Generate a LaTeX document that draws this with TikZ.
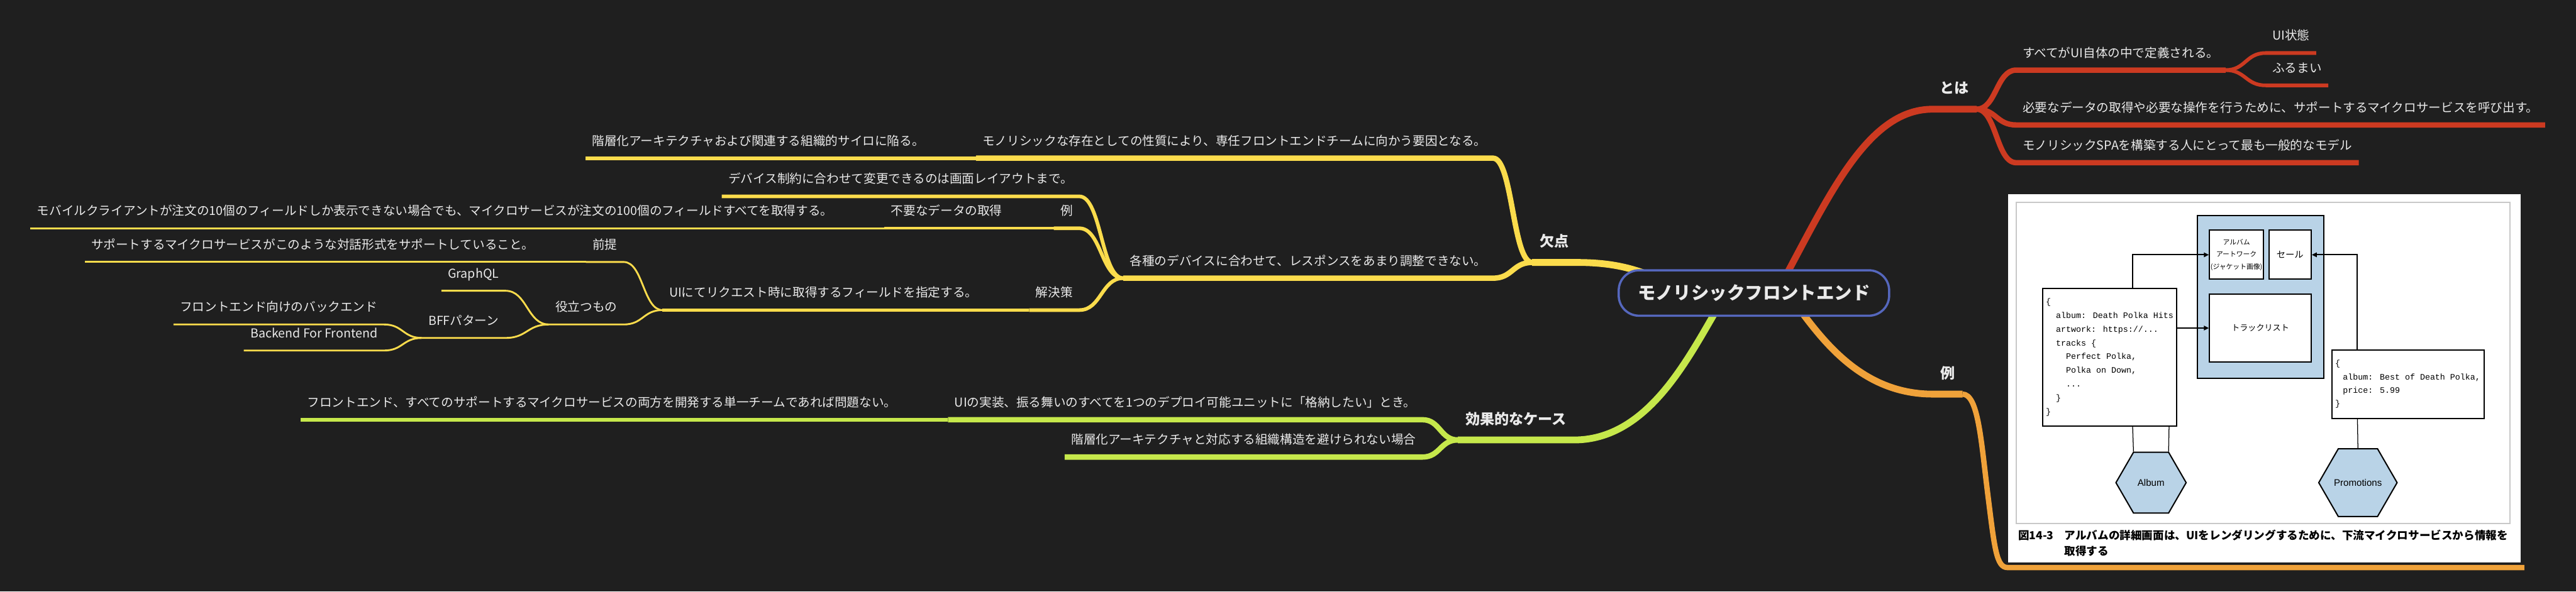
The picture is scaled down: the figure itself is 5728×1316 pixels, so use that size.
\documentclass[tikz,border=0pt]{standalone}
\usepackage{fontspec}
\setmainfont{Noto Sans CJK JP}
\newfontfamily\monof{Liberation Mono}
\newfontfamily\sansf{Liberation Sans}
\usetikzlibrary{shapes.geometric, arrows.meta, positioning, calc}

\definecolor{bgc}{HTML}{1F1F1F}
\definecolor{txtc}{HTML}{EAEAEA}
\definecolor{redb}{HTML}{CC3A21}
\definecolor{orab}{HTML}{F0A23A}
\definecolor{yelb}{HTML}{FBDC4C}
\definecolor{grnb}{HTML}{C6E84B}
\definecolor{rootc}{HTML}{5567BD}
\definecolor{imgblue}{HTML}{B9D3E7}
\definecolor{framec}{HTML}{C8C8C8}

\pgfdeclarelayer{lines}
\pgfsetlayers{lines,main}

\tikzset{
  leaf/.style={font=\fontsize{7.8}{9}\selectfont, text=txtc, inner xsep=0.14cm, inner ysep=0.28cm, text depth=0pt},
  topic/.style={font=\bfseries\fontsize{9.2}{11}\selectfont, text=txtc, inner xsep=0.16cm, inner ysep=0.34cm, text depth=0pt},
  rootbox/.style={draw=rootc, line width=1.4pt, fill=bgc, rounded corners=0.45cm, minimum width=6.01cm, minimum height=1.01cm, font=\bfseries\fontsize{11.3}{13}\selectfont, text=txtc},
  trunk/.style={line width=4.3pt, line join=round},
  branch/.style={to path={let \p1=(\tikztostart), \p2=(\tikztotarget) in .. controls ({(\x1+\x2)/2},\y1) and ({(\x1+\x2)/2},\y2) .. (\tikztotarget)}},
  ibox/.style={draw=black, line width=0.8pt, fill=white, inner sep=0pt},
  hexa/.style={regular polygon, regular polygon sides=6, minimum size=1.56cm, draw=black, line width=0.8pt, fill=imgblue, inner sep=0pt, font=\sansf\fontsize{6}{7}\selectfont},
  iline/.style={draw=black, line width=0.5pt},
  iarrow/.style={draw=black, line width=0.8pt, -{Triangle[length=0.11cm, width=0.1cm]}},
  capfont/.style={font=\bfseries\fontsize{7}{8}\selectfont, text=black, inner sep=0pt, anchor=base west}
}

\begin{document}
\begin{tikzpicture}[x=0.01cm, y=-0.01cm]
\useasboundingbox (0,0) rectangle (5728,1316);
\begin{pgfonlayer}{lines}
  \fill[bgc] (0,0) rectangle (5728,1316);
\end{pgfonlayer}

\node[rootbox] (root) at (3900,652) {モノリシックフロントエンド};

% right side
\node[topic, anchor=south west] (toha) at (4297,243) {とは};
\node[leaf, anchor=south west] (r1) at (4483,156) {すべてがUI自体の中で定義される。};
\node[leaf, anchor=south west] (r1a) at (5038,118) {UI状態};
\node[leaf, anchor=south west] (r1b) at (5038,190) {ふるまい};
\node[leaf, anchor=south west] (r2) at (4483,278) {必要なデータの取得や必要な操作を行うために、サポートするマイクロサービスを呼び出す。};
\node[leaf, anchor=south west] (r3) at (4483,362) {モノリシックSPAを構築する人にとって最も一般的なモデル};
\node[topic, anchor=south west] (rei) at (4298,877) {例};

% left side
\node[topic, anchor=south east] (ketten) at (3505,584) {欠点};
\node[leaf, anchor=south east] (k1) at (3320,352) {モノリシックな存在としての性質により、専任フロントエンドチームに向かう要因となる。};
\node[leaf, anchor=south east] (k1a) at ([xshift=-1cm]k1.south west) {階層化アーキテクチャおよび関連する組織的サイロに陥る。};
\node[leaf, anchor=south east] (k2) at (3320,619) {各種のデバイスに合わせて、レスポンスをあまり調整できない。};
\node[leaf, anchor=south east] (k2a) at (2400,437) {デバイス制約に合わせて変更できるのは画面レイアウトまで。};
\node[leaf, anchor=south east] (k2b) at (2400,508) {例};
\node[leaf, anchor=south east] (k2b1) at ([xshift=-1cm]k2b.south west) {不要なデータの取得};
\node[leaf, anchor=south east] (k2b1a) at ([xshift=-1cm]k2b1.south west) {モバイルクライアントが注文の10個のフィールドしか表示できない場合でも、マイクロサービスが注文の100個のフィールドすべてを取得する。};
\node[leaf, anchor=south east] (k2c) at (2400,690) {解決策};
\node[leaf, anchor=south east] (k2c1) at ([xshift=-1cm]k2c.south west) {UIにてリクエスト時に取得するフィールドを指定する。};
\node[leaf, anchor=south east] (k2c1a) at (1387,583) {前提};
\node[leaf, anchor=south east] (k2c1a1) at ([xshift=-1cm]k2c1a.south west) {サポートするマイクロサービスがこのような対話形式をサポートしていること。};
\node[leaf, anchor=south east] (k2c1b) at (1387,722) {役立つもの};
\node[leaf, anchor=south east] (k2c1b1) at (1124,647) {GraphQL};
\node[leaf, anchor=south east] (k2c1b2) at (1124,752) {BFFパターン};
\node[leaf, anchor=south east] (k2c1b2a) at (854,722) {フロントエンド向けのバックエンド};
\node[leaf, anchor=south east] (k2c1b2b) at (854,780) {Backend For Frontend};

\node[topic, anchor=south east] (kouka) at (3500,979) {効果的なケース};
\node[leaf, anchor=south east] (g1) at (3163,934) {UIの実装、振る舞いのすべてを1つのデプロイ可能ユニットに「格納したい」とき。};
\node[leaf, anchor=south east] (g1a) at ([xshift=-1cm]g1.south west) {フロントエンド、すべてのサポートするマイクロサービスの両方を開発する単一チームであれば問題ない。};
\node[leaf, anchor=south east] (g2) at (3163,1017) {階層化アーキテクチャと対応する組織構造を避けられない場合};

% picture of the example
\node[fill=white, inner sep=0pt, minimum width=11.4cm, minimum height=8.19cm, anchor=north west] (img) at (4464,431) {};

\begin{pgfonlayer}{lines}
  \draw[redb, trunk] ([xshift=0.5cm]root.center) .. controls +(110,-200) and +(-150,0) .. (toha.south west) -- (toha.south east);
  \draw[orab, trunk] ([xshift=0.75cm]root.center) .. controls +(65,88) and +(-170,0) .. (rei.south west) -- (rei.south east);
  \draw[grnb, trunk] ([xshift=-0.6cm]root.center) .. controls +(-70,108) and +(180,0) .. (kouka.south east) -- (kouka.south west);
  \draw[yelb, trunk] ([xshift=-1.5cm]root.center) .. controls +(-90,-50) and +(95,0) .. (ketten.south east) -- (ketten.south west);
  \draw[orab, line width=3.4pt, line join=round] (rei.south east) .. controls +(35,0) and +(-15,-120) .. (4420,1100)
    .. controls +(15,120) and +(-25,0) .. ([yshift=-0.11cm]img.south west) -- ([xshift=0.07cm, yshift=-0.11cm]img.south east);
\end{pgfonlayer}

\foreach \a/\b/\c/\w in {toha/r1/redb/3.4pt, r1/r1a/redb/2.3pt, r1/r1b/redb/2.3pt, toha/r2/redb/3.4pt, toha/r3/redb/3.4pt}
  \draw[draw=\c, line width=\w, line join=round] (\a.south east) to[branch] (\b.south west) -- (\b.south east);

\foreach \a/\b/\c/\w in {ketten/k1/yelb/3.4pt, k1/k1a/yelb/2.3pt, ketten/k2/yelb/3.4pt, k2/k2a/yelb/2.3pt,
    k2/k2b/yelb/2.3pt, k2b/k2b1/yelb/1.7pt, k2b1/k2b1a/yelb/1.15pt, k2/k2c/yelb/2.3pt, k2c/k2c1/yelb/1.7pt,
    k2c1/k2c1a/yelb/1.15pt, k2c1a/k2c1a1/yelb/1.15pt, k2c1/k2c1b/yelb/1.15pt, k2c1b/k2c1b1/yelb/1.15pt,
    k2c1b/k2c1b2/yelb/1.15pt, k2c1b2/k2c1b2a/yelb/1.15pt, k2c1b2/k2c1b2b/yelb/1.15pt,
    kouka/g1/grnb/3.4pt, g1/g1a/grnb/2.3pt, kouka/g2/grnb/3.4pt}
  \draw[draw=\c, line width=\w, line join=round] (\a.south west) to[branch] (\b.south east) -- (\b.south west);

\draw[framec, line width=0.8pt] (4484,450) rectangle (5581,1165);
\node[ibox, fill=imgblue, minimum width=2.81cm, minimum height=3.62cm] (panel) at (5026,661) {};
\node[ibox, minimum width=1.2cm, minimum height=1.09cm, align=center, font=\fontsize{4.3}{7.7}\selectfont] (art) at (4973,567) {アルバム\\アートワーク\\(ジャケット画像)};
\node[ibox, minimum width=0.94cm, minimum height=1.09cm, font=\fontsize{5.7}{7}\selectfont] (sale) at (5092,567) {セール};
\node[ibox, minimum width=2.26cm, minimum height=1.51cm, font=\fontsize{5.2}{7}\selectfont] (tracks) at (5026,730) {トラックリスト};
\node[ibox, minimum width=2.98cm, minimum height=3.06cm, align=left, font=\monof\fontsize{5.3}{8.7}\selectfont] (jsonL) at (4691,795)
  {\{\\~~album: Death Polka Hits\\~~artwork: https://...\\~~tracks \{\\~~~~Perfect Polka,\\~~~~Polka on Down,\\~~~~...\\~~\}\\\}};
\node[ibox, minimum width=3.38cm, minimum height=1.53cm, align=left, font=\monof\fontsize{5.3}{8.5}\selectfont] (jsonR) at (5354,855)
  {\{\\\hspace*{0.17cm}album: Best of Death Polka,\\\hspace*{0.17cm}price: 5.99\\\}};
\node[hexa] (album) at (4783,1074) {Album};
\node[hexa] (promo) at (5243,1074) {Promotions};

\draw[iarrow] ([xshift=0.51cm]jsonL.north) |- (art.west);
\draw[iarrow] (tracks.west -| jsonL.east) -- (tracks.west);
\draw[iarrow] ([xshift=-1.12cm]jsonR.north) |- (sale.east);
\draw[iline] ([xshift=0.51cm]jsonL.south) -- ([xshift=-0.39cm]album.north);
\draw[iline] ([xshift=1.32cm]jsonL.south) -- ([xshift=0.39cm]album.north);
\draw[iline] ([xshift=-1.12cm]jsonR.south) -- (promo.north);

\node[capfont] (capno) at (4487,1201) {図14-3};
\node[capfont] (cap1) at (4590,1201) {アルバムの詳細画面は、UIをレンダリングするために、下流マイクロサービスから情報を};
\node[capfont] (cap2) at (4590,1235) {取得する};
\end{tikzpicture}
\end{document}
